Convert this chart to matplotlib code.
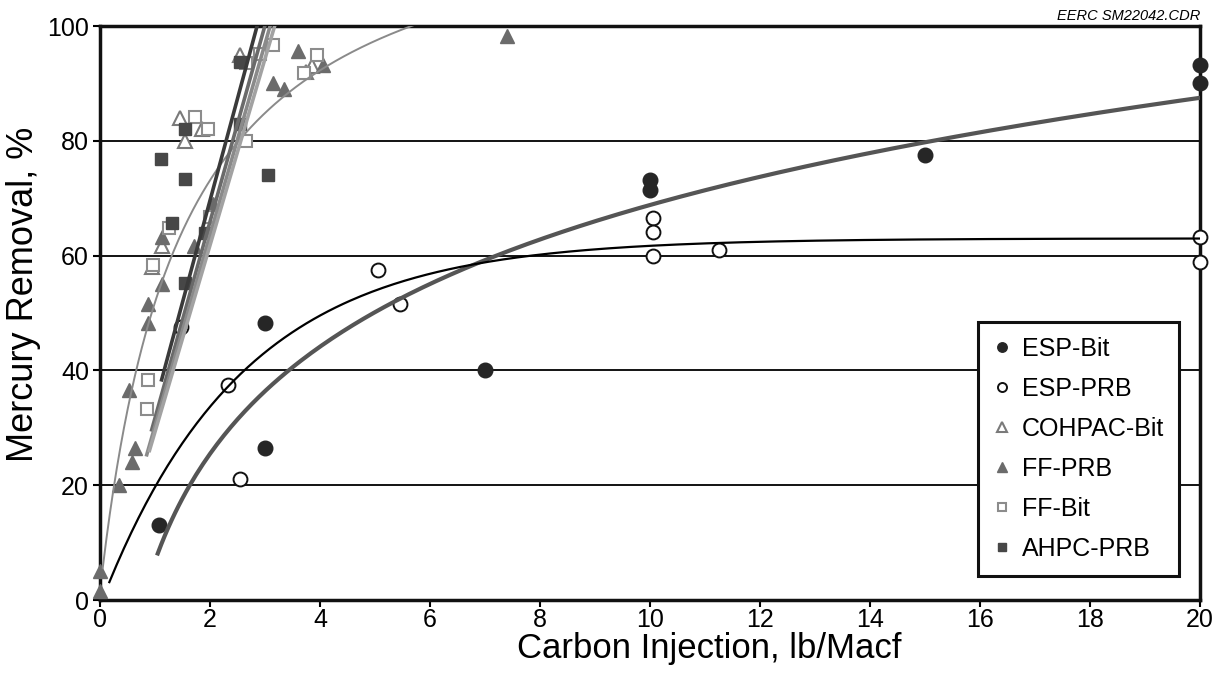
import numpy as np
import matplotlib
matplotlib.use('Agg')
import matplotlib.pyplot as plt

plt.rcParams['font.family'] = ['Liberation Sans', 'DejaVu Sans']

###############################
#     Data     #
###############################
# x = carbon injection (lb/Macf), y = mercury removal (%)
esp_bit_x = [1.08, 3.0, 3.0, 7.0, 10.0, 10.0, 15.0, 20.0, 20.0]
esp_bit_y = [13.0, 48.3, 26.5, 40.0, 73.2, 71.5, 77.5, 93.2, 90.0]

esp_prb_x = [1.48, 2.33, 2.55, 5.05, 5.45, 10.05, 10.05, 10.05, 11.25, 20.0, 20.0]
esp_prb_y = [47.6, 37.4, 21.1, 57.5, 51.6, 66.6, 64.1, 60.0, 61.0, 63.2, 58.9]

cohpac_bit_x = [0.94, 1.12, 1.45, 1.55, 1.85, 2.55, 3.75, 3.85]
cohpac_bit_y = [58.0, 61.7, 84.0, 80.0, 82.0, 95.0, 92.0, 93.0]

ff_prb_x = [0.0, 0.0, 0.35, 0.53, 0.59, 0.64, 0.88, 0.88, 1.12, 1.12, 1.7, 2.05, 3.15, 3.35, 3.6, 4.05, 7.4]
ff_prb_y = [5.0, 1.5, 20.0, 36.6, 24.1, 26.4, 48.2, 51.6, 55.0, 63.3, 61.7, 69.0, 90.0, 89.0, 95.7, 93.2, 98.3]

ff_bit_x = [0.85, 0.88, 0.97, 1.26, 1.72, 1.96, 2.0, 2.65, 2.65, 2.9, 3.15, 3.7, 3.95]
ff_bit_y = [33.2, 38.3, 58.3, 64.8, 84.2, 82.0, 66.8, 80.0, 93.5, 95.2, 96.7, 91.8, 95.0]

ahpc_prb_x = [1.1, 1.3, 1.55, 1.55, 1.55, 1.9, 2.55, 2.55, 3.05]
ahpc_prb_y = [76.8, 65.7, 82.0, 73.3, 55.2, 63.9, 83.0, 93.8, 74.0]

# trend line parameters (estimated from the chart)
prb_top, prb_k, prb_x0 = 63.0, 0.39, 0.04          # ESP-PRB rise to max
bag_a, bag_b, bag_c = 123.9, 1.46, 1.5              # thin grey fabric filter curve
steep_slope = [35.5, 34.2, 33.3, 32.5]             # straight fabric filter lines
steep_icpt = [-1.4, -2.5, -3.0, -3.2]
steep_start = [1.12, 0.94, 0.85, 0.90]
steep_color = ['#3a3a3a', '#6a6a6a', '#8a8a8a', '#a2a2a2']

x_ticks = list(range(0, 21, 2))
y_ticks = list(range(0, 101, 20))

################################
#            Plot              #
################################
fig = plt.figure(figsize=(12.25, 6.83), dpi=100)
ax = fig.add_axes([100 / 1225, 83 / 683, 1100 / 1225, 574 / 683])

for yy in y_ticks[1:-1]:
    ax.axhline(yy, color='black', lw=1.3, zorder=1)

ms = 9
h1, = ax.plot(esp_bit_x, esp_bit_y, 'o', ms=ms + 1.5, color='#262626', mec='#262626', label='ESP-Bit', clip_on=False, zorder=3)
h2, = ax.plot(esp_prb_x, esp_prb_y, 'o', ms=ms + 1, mfc='white', mec='#111111', mew=1.4, label='ESP-PRB', clip_on=False, zorder=3)
h3, = ax.plot(cohpac_bit_x, cohpac_bit_y, '^', ms=ms + 1, mfc='white', mec='#7a7a7a', mew=1.5, label='COHPAC-Bit', clip_on=False, zorder=3)
h4, = ax.plot(ff_prb_x, ff_prb_y, '^', ms=ms + 1, color='#6b6b6b', mec='#6b6b6b', label='FF-PRB', clip_on=False, zorder=3)
h5, = ax.plot(ff_bit_x, ff_bit_y, 's', ms=ms, mfc='white', mec='#8c8c8c', mew=1.5, label='FF-Bit', clip_on=False, zorder=3)
h6, = ax.plot(ahpc_prb_x, ahpc_prb_y, 's', ms=ms - 0.5, color='#474747', mec='#474747', label='AHPC-PRB', clip_on=False, zorder=3)

# ESP-Bit log trend line fitted to its points
a, b = np.polyfit(np.log(esp_bit_x), esp_bit_y, 1)
xs = np.linspace(1.05, 20, 300)
ax.plot(xs, a * np.log(xs) + b, color='#555555', lw=3, zorder=4)

# ESP-PRB curve
xs = np.linspace(0.17, 20, 300)
ax.plot(xs, prb_top * (1 - np.exp(-prb_k * (xs - prb_x0))), color='black', lw=1.6, zorder=4)

# thin grey curve through the fabric filter points
xs = np.linspace(0.05, 6.5, 300)
ax.plot(xs, bag_a * xs / (bag_b + xs) + bag_c, color='#8a8a8a', lw=1.4, zorder=4)

# straight steep lines
for sl, ic, x0, col in zip(steep_slope, steep_icpt, steep_start, steep_color):
    xs = np.array([x0, 3.5])
    ax.plot(xs, sl * xs + ic, color=col, lw=2.6, zorder=4)

ax.set_xlim(0, 20)
ax.set_ylim(0, 100)
ax.set_xticks(x_ticks)
ax.set_yticks(y_ticks)
ax.tick_params(labelsize=18, length=5, width=1.5, direction='out')
ax.tick_params(axis='x', pad=1)
ax.tick_params(axis='y', pad=3)
for s in ax.spines.values():
    s.set_linewidth(2.5)
    s.set_color('#111111')

ax.set_xlabel('Carbon Injection, lb/Macf', fontsize=25, labelpad=0, x=0.554)
ax.set_ylabel('Mercury Removal, %', fontsize=26, labelpad=4, y=0.533)

ax.text(1.0, 1.006, 'EERC SM22042.CDR', transform=ax.transAxes, ha='right', va='bottom',
        fontsize=10.5, fontstyle='italic')

leg = ax.legend(handles=[h1, h2, h3, h4, h5, h6], loc='lower right', bbox_to_anchor=(0.981, 0.042),
                borderaxespad=0, fontsize=18, markerscale=0.65, frameon=True, fancybox=False,
                framealpha=1, edgecolor='#111111', labelspacing=0.64, handlelength=0.7,
                handletextpad=0.45, borderpad=0.6)
leg.get_frame().set_linewidth(2.2)
leg.set_zorder(6)

plt.savefig('out.png', dpi=100)
